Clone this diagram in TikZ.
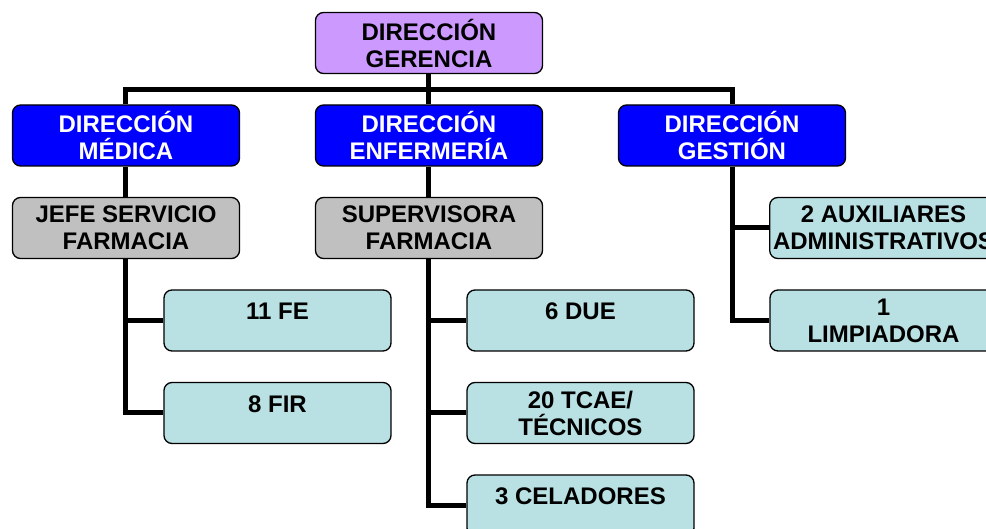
\documentclass[tikz,border=0pt]{standalone}
\usepackage{fontspec}
\setmainfont{Liberation Sans}
\usetikzlibrary{positioning, backgrounds, calc}
\definecolor{lila}{HTML}{CC99FF}
\definecolor{azul}{HTML}{0000FF}
\definecolor{gris}{HTML}{C0C0C0}
\definecolor{celeste}{HTML}{B9E0E3}
\tikzstyle{caja}=[draw, line width=1.3pt, rounded corners=8pt, minimum width=227pt, minimum height=61pt, align=center, font=\fontsize{24}{27}\selectfont\bfseries]
\tikzstyle{dir}=[caja, fill=azul, text=white]
\tikzstyle{hoja}=[caja, fill=celeste]
\tikzstyle{una}=[hoja, text depth=18pt]
\tikzstyle{linea}=[line width=5pt]

\begin{document}
\begin{tikzpicture}[node distance=92.5pt and 151.5pt, on grid]
	\useasboundingbox (-429pt,43pt) rectangle (557pt,-486pt);
	\node	[caja, fill=lila]	(ger)		{DIRECCIÓN\\GERENCIA};
	\node	[dir]		(enf)	[below=of ger]		{DIRECCIÓN\\ENFERMERÍA};
	\node	[dir]		(med)	[left=303pt of enf]	{DIRECCIÓN\\MÉDICA};
	\node	[dir]		(ges)	[right=303pt of enf]	{DIRECCIÓN\\GESTIÓN};
	\node	[caja, fill=gris]	(jefe)	[below=of med]	{JEFE SERVICIO\\FARMACIA};
	\node	[caja, fill=gris]	(sup)	[below=of enf]	{SUPERVISORA\\FARMACIA};
	\node	[una]		(fe)	[below right=of jefe]	{11 FE};
	\node	[una]		(fir)	[below=of fe]		{8 FIR};
	\node	[una]		(due)	[below right=of sup]	{6 DUE};
	\node	[hoja]		(tcae)	[below=of due]		{20 TCAE/\\TÉCNICOS};
	\node	[una]		(cel)	[below=of tcae]		{3 CELADORES};
	\node	[hoja]		(aux)	[below right=of ges]	{2 AUXILIARES\\ADMINISTRATIVOS};
	\node	[hoja]		(limp)	[below=of aux]		{1\\LIMPIADORA};
	% conectores
	\begin{scope}[on background layer]
		\coordinate (bus) at ($(ger.south)!.5!(enf.north)$);
		\draw[linea] (ger) -- (enf);
		\draw[linea] (med.north) |- (bus) -| (ges.north);
		\draw[linea] (med) -- (jefe);
		\draw[linea] (enf) -- (sup);
		\draw[linea] (jefe.south) |- (fe.west);
		\draw[linea] (jefe.south) |- (fir.west);
		\draw[linea] (sup.south) |- (due.west);
		\draw[linea] (sup.south) |- (tcae.west);
		\draw[linea] (sup.south) |- (cel.west);
		\draw[linea] (ges.south) |- (aux.west);
		\draw[linea] (ges.south) |- (limp.west);
	\end{scope}
\end{tikzpicture}
\end{document}
